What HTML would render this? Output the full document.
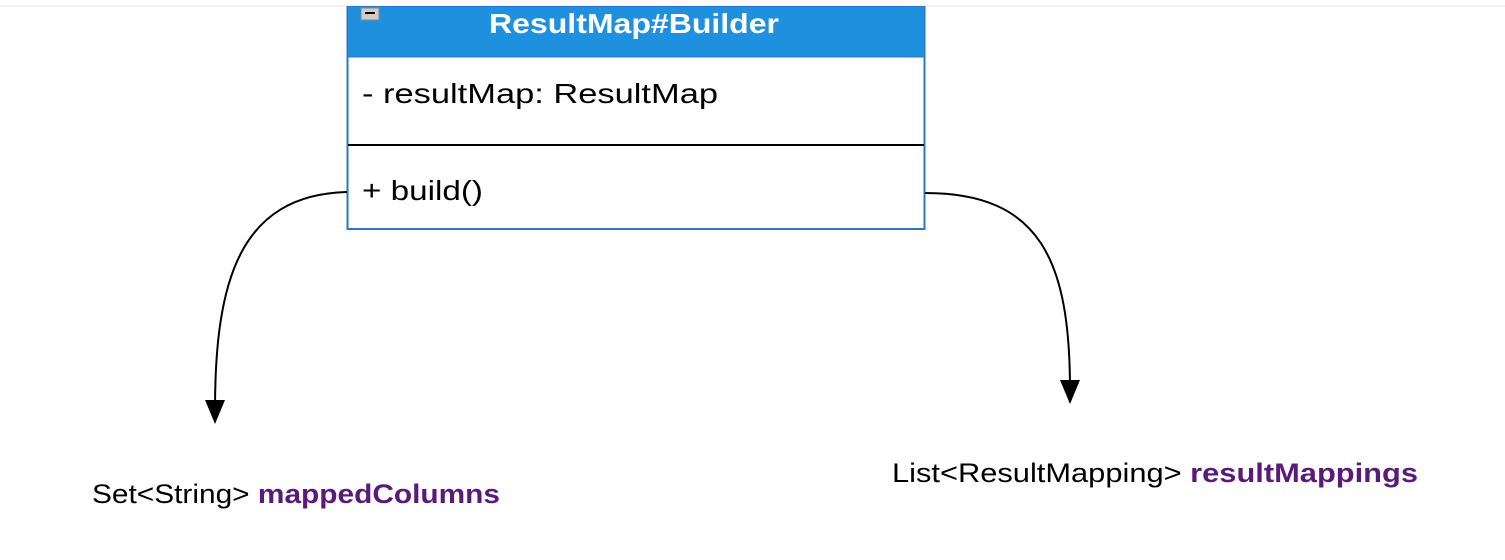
<!DOCTYPE html>
<html><head><meta charset="utf-8"><style>
html,body{margin:0;padding:0;background:#fff;}
</style></head><body>
<svg width="1505" height="560" xmlns="http://www.w3.org/2000/svg" style="display:block">
<line x1="0" y1="6" x2="1505" y2="6" stroke="#e4e4e4" stroke-width="1"/>
<rect x="347.5" y="7" width="577" height="222" fill="#fff" stroke="#2a78c4" stroke-width="2"/>
<rect x="348" y="7" width="576" height="50" fill="#1e90de"/>
<line x1="348" y1="57" x2="924" y2="57" stroke="#2a78c4" stroke-width="1"/>
<rect x="361" y="8" width="18" height="12" fill="#ccc" stroke="#888" stroke-width="1"/>
<line x1="365" y1="13" x2="375" y2="13" stroke="#000" stroke-width="2"/>
<text x="634" y="33" text-anchor="middle" font-family="Liberation Sans, sans-serif" font-weight="bold" font-size="28" fill="#fff" textLength="290" lengthAdjust="spacingAndGlyphs">ResultMap#Builder</text>
<text x="362" y="103" font-family="Liberation Sans, sans-serif" font-size="28" fill="#000" textLength="356" lengthAdjust="spacingAndGlyphs">- resultMap:  ResultMap</text>
<line x1="348" y1="145" x2="924" y2="145" stroke="#000" stroke-width="2"/>
<text x="362" y="200" font-family="Liberation Sans, sans-serif" font-size="28" fill="#000" textLength="121" lengthAdjust="spacingAndGlyphs">+ build()</text>
<path d="M347 192 C 240 195, 215 280, 215 410" fill="none" stroke="#000" stroke-width="2"/>
<polygon points="205,400 225,400 215,424" fill="#000"/>
<path d="M925 193 C 1040 193, 1070 260, 1070 390" fill="none" stroke="#000" stroke-width="2"/>
<polygon points="1060,380 1080,380 1070,404" fill="#000"/>
<text x="92" y="503" font-family="Liberation Sans, sans-serif" font-size="27" fill="#000" textLength="408" lengthAdjust="spacingAndGlyphs"><tspan>Set&lt;String&gt; </tspan><tspan fill="#5a1a7a" font-weight="bold">mappedColumns</tspan></text>
<text x="892" y="482" font-family="Liberation Sans, sans-serif" font-size="27" fill="#000" textLength="526" lengthAdjust="spacingAndGlyphs"><tspan>List&lt;ResultMapping&gt; </tspan><tspan fill="#5a1a7a" font-weight="bold">resultMappings</tspan></text>
</svg>
</body></html>
